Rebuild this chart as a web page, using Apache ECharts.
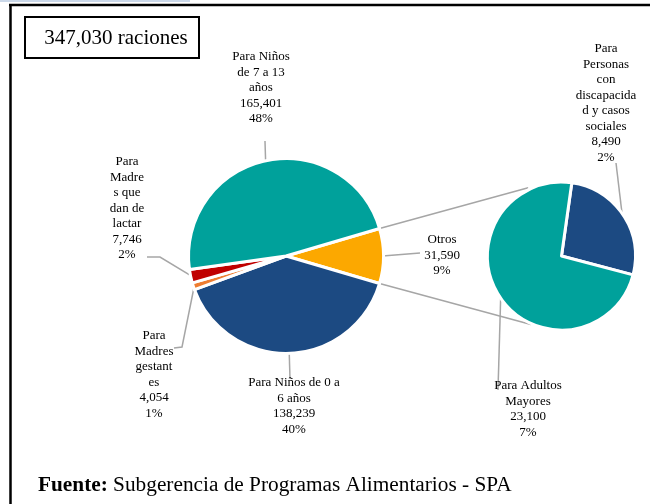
<!DOCTYPE html>
<html><head><meta charset="utf-8">
<script src="https://cdn.jsdelivr.net/npm/echarts@6/dist/echarts.min.js"></script>
<style>html,body{margin:0;padding:0;background:#fff}#c{width:650px;height:504px}</style>
</head><body><div id="c"></div>
<script>
// ---- Data ----
const mainCategories = ['Otros', 'Para Niños de 0 a 6 años', 'Para Madres gestantes', 'Para Madres que dan de lactar', 'Para Niños de 7 a 13 años'];
const mainValues = [31590, 138239, 4054, 7746, 165401];
const mainLabelText = ['Otros', 'Para Niños de 0 a\n6 años', 'Para\nMadres\ngestant\nes', 'Para\nMadre\ns que\ndan de\nlactar', 'Para Niños\nde 7 a 13\naños'];
const otherCategories = ['Para Personas con discapacidad y casos sociales', 'Para Adultos Mayores'];
const otherValues = [8490, 23100];
const otherLabelText = ['Para\nPersonas\ncon\ndiscapacida\nd y casos\nsociales', 'Para Adultos\nMayores'];
const unitText = 'raciones';
const sourceBold = 'Fuente:';
const sourceText = 'Subgerencia de Programas Alimentarios - SPA';

// ---- Styles / layout ----
const FONT = 'Liberation Serif';
const mainColors = ['#FCA800', '#1C4A82', '#EE7D31', '#C00000', '#00A19B'];
const otherColors = ['#1C4A82', '#00A19B'];
const MAIN = {cx: 286, cy: 256, r: 97.5};
const SUB = {cx: 561.5, cy: 256, r: 74};
const SUB_START = 82;
const mainLabelPos = [[442, 232], [294, 375], [154, 328], [127, 154], [261, 49]];
const mainTails = [[[420, 253]], [[290, 379]], [[182, 347], [174, 348]], [[160, 257], [147, 257]], [[265, 141]]];
const subLabelPos = [[606, 41], [528, 378]];
const subTails = [[[616, 163]], [[498, 390]]];

const total = mainValues.reduce((a, b) => a + b, 0);
const mainStart = 360 * mainValues[0] / total / 2;
const fmt = v => v.toLocaleString('en-US');

function edgePoint(g, values, start, i, extra) {
  const sum = values.reduce((a, b) => a + b, 0);
  let before = 0;
  for (let k = 0; k < i; k++) before += values[k];
  const ang = (start - 360 * (before + values[i] / 2) / sum) * Math.PI / 180;
  const r = g.r + (extra || 0);
  return [g.cx + r * Math.cos(ang), g.cy - r * Math.sin(ang)];
}
function pointAt(g, deg, r) {
  const a = deg * Math.PI / 180;
  return [g.cx + r * Math.cos(a), g.cy - r * Math.sin(a)];
}
function makeLayout(g, values, start, pos, tails) {
  return function (p) {
    const i = p.dataIndex;
    const e = edgePoint(g, values, start, i, -1);
    let pts = [e].concat(tails[i]);
    if (pts.length < 3) pts.push(pts[pts.length - 1]);
    return {x: pos[i][0], y: pos[i][1], align: 'center', verticalAlign: 'top', labelLinePoints: pts};
  };
}
const labelStyle = {
  show: true, position: 'outside', color: '#000', fontFamily: FONT, fontSize: 13, lineHeight: 15.5, align: 'center'
};
const lineStyle = {show: true, lineStyle: {color: '#A6A6A6', width: 1.5}};

const chart = echarts.init(document.getElementById('c'), null, {renderer: 'canvas'});
const topA = pointAt(MAIN, mainStart, MAIN.r + 1);
const botA = pointAt(MAIN, -mainStart, MAIN.r + 1);
const topB = pointAt(SUB, 116, SUB.r + 2);
const botB = pointAt(SUB, -114, SUB.r + 1);

chart.setOption({
  animation: false,
  backgroundColor: '#fff',
  graphic: [
    {type: 'rect', shape: {x: 0, y: 0, width: 190, height: 2}, style: {fill: '#CBD8E9'}},
    {type: 'line', shape: {x1: 9, y1: 5, x2: 650, y2: 5}, style: {stroke: '#000', lineWidth: 2.5}},
    {type: 'line', shape: {x1: 10.5, y1: 4, x2: 10.5, y2: 504}, style: {stroke: '#000', lineWidth: 2.5}},
    {type: 'rect', shape: {x: 25, y: 17, width: 174, height: 41}, style: {fill: '#fff', stroke: '#000', lineWidth: 2}},
    {type: 'text', x: 116, y: 38.5, style: {text: fmt(total) + ' ' + unitText, fontFamily: FONT, fontSize: 21, fill: '#000', align: 'center', verticalAlign: 'middle'}},
    {type: 'line', z: -1, shape: {x1: topA[0], y1: topA[1], x2: topB[0], y2: topB[1]}, style: {stroke: '#A6A6A6', lineWidth: 1.5}},
    {type: 'line', z: -1, shape: {x1: botA[0], y1: botA[1], x2: botB[0], y2: botB[1]}, style: {stroke: '#A6A6A6', lineWidth: 1.5}},
    {type: 'text', x: 38, y: 485, style: {
      text: '{b|' + sourceBold + '} ' + sourceText, fontFamily: FONT, fontSize: 21.3, fill: '#000', verticalAlign: 'middle',
      rich: {b: {fontFamily: FONT, fontSize: 21.3, fontWeight: 'bold', fill: '#000'}}
    }}
  ],
  series: [
    {
      type: 'pie', center: [MAIN.cx, MAIN.cy], radius: MAIN.r, startAngle: mainStart, clockwise: true,
      avoidLabelOverlap: false, silent: true,
      itemStyle: {borderColor: '#fff', borderWidth: 3},
      label: Object.assign({}, labelStyle, {formatter: p => mainLabelText[p.dataIndex] + '\n' + fmt(p.value) + '\n' + Math.round(p.value / total * 100) + '%'}),
      labelLine: lineStyle,
      labelLayout: makeLayout(MAIN, mainValues, mainStart, mainLabelPos, mainTails),
      emphasis: {disabled: true},
      data: mainCategories.map((n, i) => ({name: n, value: mainValues[i], itemStyle: {color: mainColors[i]}}))
    },
    {
      type: 'pie', center: [SUB.cx, SUB.cy], radius: SUB.r, startAngle: SUB_START, clockwise: true,
      avoidLabelOverlap: false, silent: true,
      itemStyle: {borderColor: '#fff', borderWidth: 3},
      label: Object.assign({}, labelStyle, {formatter: p => otherLabelText[p.dataIndex] + '\n' + fmt(p.value) + '\n' + Math.round(p.value / total * 100) + '%'}),
      labelLine: lineStyle,
      labelLayout: makeLayout(SUB, otherValues, SUB_START, subLabelPos, subTails),
      emphasis: {disabled: true},
      data: otherCategories.map((n, i) => ({name: n, value: otherValues[i], itemStyle: {color: otherColors[i]}}))
    }
  ]
});
</script>
</body></html>
